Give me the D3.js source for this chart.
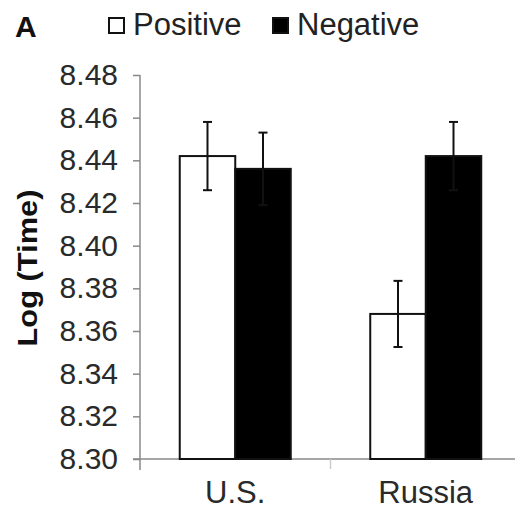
<!DOCTYPE html>
<html>
<head>
<meta charset="utf-8">
<script src="https://cdn.jsdelivr.net/npm/d3@7"></script>
<style>
  body { margin: 0; background: #fff; }
  text { font-family: Arial, "Liberation Sans", sans-serif; }
</style>
</head>
<body>
<div id="chart"></div>
<script>
const categories = ["U.S.", "Russia"];
const seriesNames = ["Positive", "Negative"];
const positive = [8.442, 8.368];
const negative = [8.436, 8.442];
const positiveErr = [0.016, 0.0155];
const negativeErr = [0.017, 0.016];
const yTicks = [8.30, 8.32, 8.34, 8.36, 8.38, 8.40, 8.42, 8.44, 8.46, 8.48];

const width = 515, height = 511;
const svg = d3.select("#chart").append("svg")
  .attr("width", width)
  .attr("height", height);

const x0 = d3.scaleBand().domain(categories).range([140, 521]).padding(0);
const x1 = d3.scaleBand().domain(seriesNames).range([0, x0.bandwidth()])
  .paddingInner(0).paddingOuter(0.716);
const y = d3.scaleLinear().domain([8.30, 8.48]).range([459, 75]);

const rows = categories.map((c, i) => ({
  cat: c,
  bars: [
    { s: "Positive", v: positive[i], e: positiveErr[i], fill: "#fff" },
    { s: "Negative", v: negative[i], e: negativeErr[i], fill: "#000" }
  ]
}));

// y axis
const yAxis = svg.append("g")
  .attr("transform", "translate(140,0)")
  .call(d3.axisLeft(y).tickValues(yTicks).tickFormat(d3.format(".2f")).tickSize(7).tickSizeOuter(0));
yAxis.select(".domain").remove();
yAxis.append("line")
  .attr("x1", 0).attr("x2", 0)
  .attr("y1", y(8.48)).attr("y2", 470)
  .attr("stroke", "#888").attr("stroke-width", 1.5);
yAxis.selectAll(".tick line").attr("stroke", "#888").attr("stroke-width", 1.5);
yAxis.selectAll(".tick text")
  .attr("x", -22)
  .attr("fill", "#2a2a2a")
  .style("font-size", "30px");

// x axis line and boundary ticks
svg.append("line")
  .attr("x1", 133).attr("x2", 521)
  .attr("y1", y(8.30)).attr("y2", y(8.30))
  .attr("stroke", "#888").attr("stroke-width", 1.5);
svg.selectAll(".xb")
  .data(categories.slice(1))
  .enter().append("line")
  .attr("x1", d => x0(d)).attr("x2", d => x0(d))
  .attr("y1", y(8.30)).attr("y2", y(8.30) + 10)
  .attr("stroke", "#ccc").attr("stroke-width", 1.5);

svg.selectAll(".xlab")
  .data(categories)
  .enter().append("text")
  .attr("x", d => x0(d) + x0.bandwidth() / 2)
  .attr("y", 503)
  .attr("text-anchor", "middle")
  .attr("fill", "#2a2a2a")
  .style("font-size", "31px")
  .text(d => d);

// bars
const groups = svg.selectAll(".grp")
  .data(rows)
  .enter().append("g")
  .attr("transform", d => `translate(${x0(d.cat)},0)`);

groups.selectAll("rect")
  .data(d => d.bars)
  .enter().append("rect")
  .attr("x", d => x1(d.s))
  .attr("y", d => y(d.v))
  .attr("width", x1.bandwidth())
  .attr("height", d => y(8.30) - y(d.v))
  .attr("fill", d => d.fill)
  .attr("stroke", "#111")
  .attr("stroke-width", 2);

// error bars
const eb = groups.selectAll(".err")
  .data(d => d.bars)
  .enter().append("g")
  .attr("transform", d => `translate(${x1(d.s) + x1.bandwidth() / 2},0)`);
eb.append("line")
  .attr("y1", d => y(d.v + d.e)).attr("y2", d => y(d.v - d.e))
  .attr("stroke", "#111").attr("stroke-width", 2);
eb.append("line")
  .attr("x1", -4.5).attr("x2", 4.5)
  .attr("y1", d => y(d.v + d.e)).attr("y2", d => y(d.v + d.e))
  .attr("stroke", "#111").attr("stroke-width", 2);
eb.append("line")
  .attr("x1", -4.5).attr("x2", 4.5)
  .attr("y1", d => y(d.v - d.e)).attr("y2", d => y(d.v - d.e))
  .attr("stroke", "#111").attr("stroke-width", 2);

// y title
svg.append("text")
  .attr("transform", "translate(37,268) rotate(-90)")
  .attr("text-anchor", "middle")
  .attr("font-weight", "bold")
  .attr("fill", "#111")
  .style("font-size", "27px")
  .attr("textLength", 157)
  .attr("lengthAdjust", "spacingAndGlyphs")
  .text("Log (Time)");

// panel letter and legend
svg.append("text")
  .attr("x", 15).attr("y", 37)
  .attr("font-weight", "bold")
  .attr("fill", "#111")
  .style("font-size", "30px")
  .text("A");

const legend = svg.append("g");
const legX = [108, 272];
seriesNames.forEach((s, i) => {
  legend.append("rect")
    .attr("x", legX[i] + 1).attr("y", 18)
    .attr("width", 15).attr("height", 15)
    .attr("fill", i === 0 ? "#fff" : "#000")
    .attr("stroke", "#111").attr("stroke-width", 2);
  legend.append("text")
    .attr("x", legX[i] + 25).attr("y", 35)
    .attr("fill", "#222")
    .style("font-size", "31px")
    .text(s);
});
</script>
</body>
</html>
